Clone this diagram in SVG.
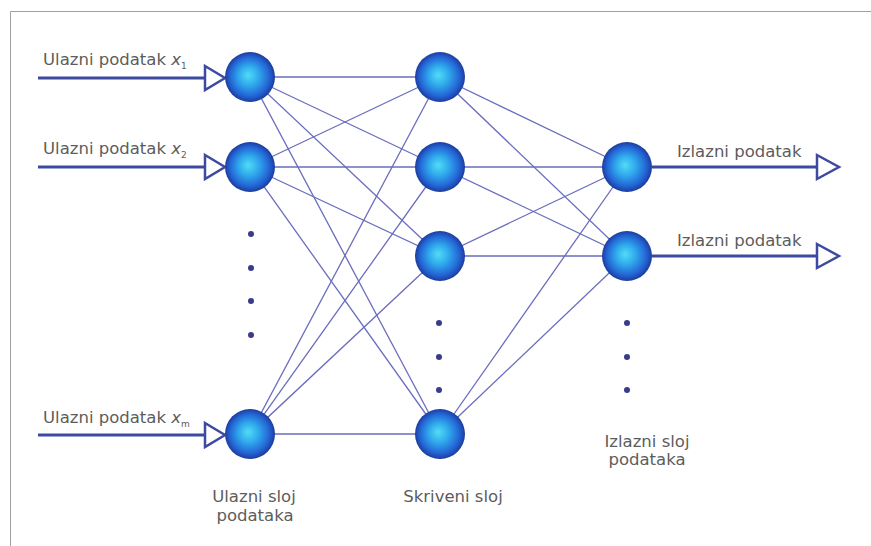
<svg xmlns="http://www.w3.org/2000/svg" width="871" height="546" viewBox="0 0 871 546">
<defs>
<radialGradient id="ball" cx="50%" cy="50%" r="50%" fx="46%" fy="46%">
<stop offset="0%" stop-color="#52dcf6"/>
<stop offset="40%" stop-color="#2fa9ec"/>
<stop offset="78%" stop-color="#2466d6"/>
<stop offset="100%" stop-color="#1c3c9e"/>
</radialGradient>
<style>
.lbl{font-family:"DejaVu Sans","Liberation Sans",sans-serif;font-size:16.5px;fill:#5c5c5c}
.ctr{text-anchor:middle}
.edge{stroke:#6a6dbd;stroke-width:1.3;fill:none}
.io{stroke:#3d4aa0;stroke-width:3;fill:none}
.head{stroke:#3d4aa0;stroke-width:2.5;fill:#fff;stroke-linejoin:miter}
.dot{fill:#3b3b8c}
.node{fill:url(#ball)}
</style>
</defs>
<rect width="871" height="546" fill="#fff"/>
<path d="M10.5 546 V11.5 H871" stroke="#a0a0a0" stroke-width="1" fill="none"/>

<g id="connectors">
<!-- input to hidden -->
<line class="edge" x1="250" y1="77" x2="440" y2="77"/>
<line class="edge" x1="250" y1="77" x2="440" y2="167"/>
<line class="edge" x1="250" y1="77" x2="440" y2="256"/>
<line class="edge" x1="250" y1="77" x2="440" y2="434"/>
<line class="edge" x1="250" y1="167" x2="440" y2="77"/>
<line class="edge" x1="250" y1="167" x2="440" y2="167"/>
<line class="edge" x1="250" y1="167" x2="440" y2="256"/>
<line class="edge" x1="250" y1="167" x2="440" y2="434"/>
<line class="edge" x1="250" y1="434" x2="440" y2="77"/>
<line class="edge" x1="250" y1="434" x2="440" y2="167"/>
<line class="edge" x1="250" y1="434" x2="440" y2="256"/>
<line class="edge" x1="250" y1="434" x2="440" y2="434"/>
<!-- hidden to output -->
<line class="edge" x1="440" y1="77" x2="627" y2="167"/>
<line class="edge" x1="440" y1="77" x2="627" y2="256"/>
<line class="edge" x1="440" y1="167" x2="627" y2="167"/>
<line class="edge" x1="440" y1="167" x2="627" y2="256"/>
<line class="edge" x1="440" y1="256" x2="627" y2="167"/>
<line class="edge" x1="440" y1="256" x2="627" y2="256"/>
<line class="edge" x1="440" y1="434" x2="627" y2="167"/>
<line class="edge" x1="440" y1="434" x2="627" y2="256"/>
<!-- input arrows -->
<line class="io" x1="38" y1="78" x2="205" y2="78"/>
<polygon class="head" points="205,66 225,78 205,90"/>
<line class="io" x1="38" y1="167" x2="205" y2="167"/>
<polygon class="head" points="205,155 225,167 205,179"/>
<line class="io" x1="38" y1="435" x2="205" y2="435"/>
<polygon class="head" points="205,423 225,435 205,447"/>
<!-- output arrows -->
<line class="io" x1="652" y1="167" x2="817" y2="167"/>
<polygon class="head" points="817,155 839,167 817,179"/>
<line class="io" x1="652" y1="256" x2="817" y2="256"/>
<polygon class="head" points="817,244 839,256 817,268"/>
</g>

<g id="in1"><circle class="node" cx="250" cy="77" r="25"/></g>
<g id="in2"><circle class="node" cx="250" cy="167" r="25"/></g>
<g id="inm"><circle class="node" cx="250" cy="434" r="25"/></g>
<g id="h1"><circle class="node" cx="440" cy="77" r="25"/></g>
<g id="h2"><circle class="node" cx="440" cy="167" r="25"/></g>
<g id="h3"><circle class="node" cx="440" cy="256" r="25"/></g>
<g id="hn"><circle class="node" cx="440" cy="434" r="25"/></g>
<g id="o1"><circle class="node" cx="627" cy="167" r="25"/></g>
<g id="o2"><circle class="node" cx="627" cy="256" r="25"/></g>

<g id="dots">
<circle class="dot" cx="251" cy="234" r="3"/>
<circle class="dot" cx="251" cy="268" r="3"/>
<circle class="dot" cx="251" cy="301" r="3"/>
<circle class="dot" cx="251" cy="335" r="3"/>
<circle class="dot" cx="439" cy="323" r="3"/>
<circle class="dot" cx="439" cy="357" r="3"/>
<circle class="dot" cx="439" cy="390" r="3"/>
<circle class="dot" cx="627" cy="323" r="3"/>
<circle class="dot" cx="627" cy="357" r="3"/>
<circle class="dot" cx="627" cy="390" r="3"/>
</g>

<g id="labels">
<text class="lbl" x="43" y="65">Ulazni podatak <tspan font-style="italic">x</tspan><tspan font-size="9" dy="4">1</tspan></text>
<text class="lbl" x="43" y="154">Ulazni podatak <tspan font-style="italic">x</tspan><tspan font-size="9" dy="4">2</tspan></text>
<text class="lbl" x="43" y="423">Ulazni podatak <tspan font-style="italic">x</tspan><tspan font-size="9" dy="4">m</tspan></text>
<text class="lbl" x="677" y="157">Izlazni podatak</text>
<text class="lbl" x="677" y="246">Izlazni podatak</text>
<text class="lbl ctr" x="254" y="502">Ulazni sloj</text>
<text class="lbl ctr" x="255" y="521">podataka</text>
<text class="lbl ctr" x="453" y="502">Skriveni sloj</text>
<text class="lbl ctr" x="647" y="447">Izlazni sloj</text>
<text class="lbl ctr" x="647" y="465">podataka</text>
</g>
</svg>
